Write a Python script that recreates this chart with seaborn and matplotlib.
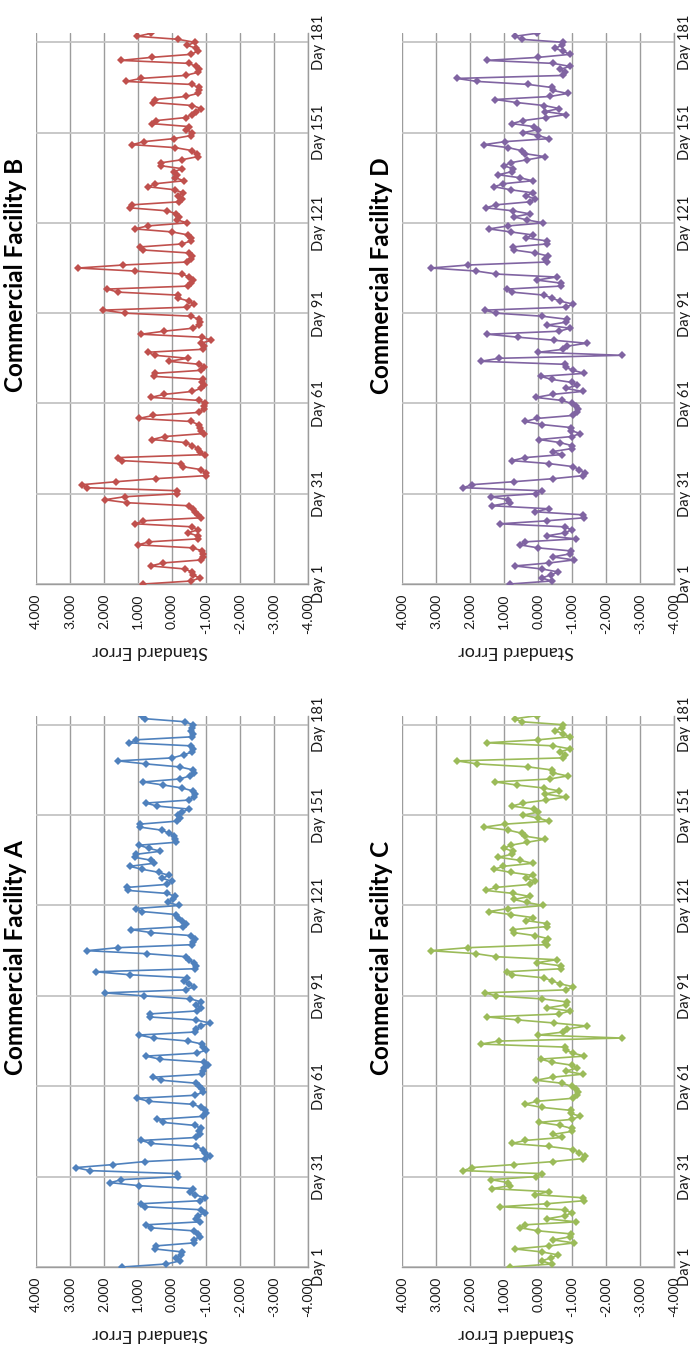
import matplotlib
matplotlib.use("Agg")
import matplotlib.pyplot as plt
import pandas as pd
import seaborn as sns

# ---------------- data ----------------
days = list(range(1, 185))
day_ticks = [1, 31, 61, 91, 121, 151, 181]
day_labels = ["Day 1", "Day 31", "Day 61", "Day 91", "Day 121", "Day 151", "Day 181"]
se_ticks = [4, 3, 2, 1, 0, -1, -2, -3, -4]
se_labels = ["4.000", "3.000", "2.000", "1.000", "0.000", "-1.000", "-2.000", "-3.000", "-4.000"]

facility_a = [
    1.46, 0.17, -0.23, -0.11, -0.25, -0.30, 0.51, 0.48, -0.64, -0.64,
    -0.81, -0.76, -0.64, 0.61, 0.77, -0.83, -0.72, -0.76, -0.96, -0.86,
    0.80, 0.90, -0.81, -0.96, -0.67, -0.52, -0.63, 0.97, 1.81, 1.49,
    -0.18, -0.15, 2.42, 2.83, 1.73, 0.80, -0.96, -1.11, -0.96, -0.91,
    -0.72, 0.61, 0.90, -0.72, -0.81, -0.79, -0.86, -0.67, 0.26, 0.44,
    -0.91, -1.01, -0.96, -0.85, -0.62, 0.68, 1.03, -0.67, -0.91, -0.89,
    -0.80, -0.72, 0.31, 0.56, -0.89, -0.91, -0.95, -1.06, -0.93, 0.36,
    0.77, -0.74, -1.01, -0.91, -0.89, -0.47, 0.54, 0.98, -0.67, -0.70,
    -0.86, -1.11, -0.70, 0.66, 0.66, -0.74, -0.86, -0.72, -0.86, -0.54,
    0.83, 1.98, -0.42, -0.64, -0.50, -0.34, -0.45, 1.23, 2.25, -0.67,
    -0.70, -0.64, -0.50, -0.42, 0.74, 2.50, 1.59, -0.60, -0.62, -0.67,
    -0.57, 0.61, 1.20, -0.32, -0.42, -0.30, -0.18, -0.11, 0.87, 1.07,
    -0.21, 0.12, -0.03, -0.10, 0.15, 1.29, 1.32, 0.15, -0.01, 0.28,
    0.10, 0.38, 0.87, 1.25, 0.54, 0.61, 1.10, 1.05, 0.34, 0.68,
    0.97, -0.13, -0.10, -0.05, 0.09, 0.30, 0.93, 0.95, -0.15, -0.23,
    -0.18, -0.30, -0.50, 0.44, 0.77, -0.50, -0.64, -0.67, -0.62, -0.30,
    0.26, 0.85, -0.23, -0.52, -0.64, -0.62, -0.23, 0.77, 1.59, -0.01,
    -0.34, -0.60, -0.62, -0.55, 1.26, 1.05, -0.60, -0.62, -0.55, -0.60,
    -0.62, -0.37, 0.79, 0.87,
]

facility_b = [
    0.84, -0.57, -0.81, -0.62, -0.59, -0.37, 0.63, 0.26, -0.86, -0.92,
    -0.90, -0.88, -0.62, 1.00, 0.68, -0.75, -0.75, -0.47, -0.76, -0.60,
    1.08, 0.84, -0.86, -0.76, -0.69, -0.62, -0.49, 1.31, 1.98, 1.39,
    -0.16, -0.16, 2.49, 2.65, 1.64, 0.48, -0.99, -0.99, -0.86, -0.31,
    -0.25, 1.47, 1.59, -0.96, -0.81, -0.77, -0.60, -0.40, 0.59, 0.22,
    -0.94, -0.85, -0.82, -0.78, -0.55, 0.98, 0.56, -0.78, -0.95, -0.93,
    -0.98, -0.80, 0.62, 0.24, -0.60, -0.85, -0.95, -0.88, -0.90, 0.53,
    0.49, -0.85, -0.95, -0.80, 0.10, -0.47, 0.51, 0.72, -0.92, -0.95,
    -0.85, -1.16, -0.88, 0.90, 0.24, -0.62, -0.80, -0.82, -0.78, -0.55,
    1.39, 2.03, -0.45, -0.65, -0.50, -0.18, -0.17, 1.60, 1.90, -0.48,
    -0.55, -0.62, -0.50, -0.30, 1.10, 2.76, 1.44, -0.45, -0.55, -0.58,
    -0.50, 0.85, 0.95, -0.30, -0.55, -0.57, -0.47, 0.00, 1.10, 0.71,
    -0.45, -0.15, -0.22, -0.13, 0.14, 1.24, 1.18, -0.20, -0.28, -0.18,
    -0.32, -0.08, 0.70, 0.50, -0.35, -0.10, -0.15, -0.05, -0.30, 0.33,
    0.31, -0.30, -0.75, -0.73, -0.60, -0.10, 1.17, 0.82, -0.05, -0.55,
    -0.60, -0.40, -0.50, 0.60, 0.46, -0.40, -0.58, -0.70, -0.85, -0.60,
    0.55, 0.50, -0.40, -0.75, -0.80, -0.78, -0.58, 1.35, 0.92, -0.40,
    -0.75, -0.78, -0.70, -0.50, 1.50, 0.60, -0.55, -0.75, -0.72, -0.45,
    -0.67, -0.18, 1.02, 0.61,
]

facility_c = [
    0.83, -0.39, -0.10, -0.36, -0.59, -0.10, 0.69, -0.32, -1.05, -0.42,
    -0.93, -0.95, 0.00, 0.54, 0.39, -1.11, -0.25, -0.78, -0.98, -0.78,
    1.13, -0.25, -1.34, -1.30, 0.10, -0.31, 1.37, 0.83, 0.88, 1.40,
    0.08, -0.10, 2.20, 1.96, 0.72, -0.44, -1.32, -1.37, -1.20, -1.03,
    -0.32, 0.78, 0.39, -0.69, -0.42, -0.98, -0.98, -0.64, -0.03, -0.98,
    -1.23, -0.96, -0.95, -0.10, 0.39, 0.05, -1.01, -1.15, -1.18, -1.11,
    -0.98, -0.69, 0.07, -0.42, -1.30, -0.81, -1.13, -0.98, -0.39, -0.07,
    -1.35, -1.03, -0.80, -0.78, 1.70, 1.15, -2.45, 0.00, -0.74, -0.83,
    -1.42, -0.46, 0.59, 1.50, -0.62, -0.93, -0.25, -0.81, -0.83, -0.10,
    1.25, 1.57, -0.81, -1.03, -0.64, -0.40, -0.17, 0.78, 0.91, -0.66,
    -0.66, 0.05, -0.54, 1.23, 1.83, 3.17, 2.06, -0.25, -0.20, -0.29,
    0.10, 0.72, 0.75, -0.25, -0.26, 0.36, 0.17, 0.81, 1.45, 0.88,
    -0.15, 0.34, 0.72, 0.25, 0.74, 1.54, 1.25, 0.25, 0.10, 0.36,
    0.17, 0.81, 1.30, 1.03, 0.17, 0.54, 1.18, 0.78, 0.75, 1.01,
    0.81, 0.32, -0.20, 0.39, 0.49, 0.88, 1.60, 0.98, -0.32, 0.00,
    0.44, 0.00, 0.13, 0.78, 0.44, -0.23, -0.81, -0.20, -0.62, -0.17,
    0.64, 1.27, -0.34, -0.86, -0.44, -0.39, 0.29, 1.79, 2.40, -0.74,
    -0.78, -0.64, -0.93, -0.44, 1.52, 0.00, -0.93, -0.74, -0.49, -0.69,
    -0.74, 0.49, 0.69, 0.05,
]

# Facility D reads identically to Facility C in the reference
facility_d = list(facility_c)

# ---------------- style ----------------
sns.set_theme(style="white")
plt.rcParams["font.family"] = ["Lato", "DejaVu Sans"]

W, H = 690, 1355
fig = plt.figure(figsize=(W / 100, H / 100), dpi=100)
fig.patch.set_facecolor("white")

TEXT = "#1a1a1a"
GRID_V = "#9c9c9c"
GRID_H = "#c4c4c4"


def rect(x0, x1, ytop, ybot):
    return [x0 / W, 1 - ybot / H, (x1 - x0) / W, (ybot - ytop) / H]


panels = [
    ("Commercial Facility B", facility_b, "#C0504D", 36.0, 33.3, 584.0),
    ("Commercial Facility D", facility_d, "#8064A2", 402.3, 33.3, 584.0),
    ("Commercial Facility A", facility_a, "#4F81BD", 36.0, 715.7, 1267.0),
    ("Commercial Facility C", facility_c, "#9BBB59", 402.3, 715.7, 1267.0),
]

for title, vals, color, x0, ytop, ybot in panels:
    ax = fig.add_axes(rect(x0, x0 + 272.0, ytop, ybot))
    df = pd.DataFrame({"day": days, "se": vals})
    sns.lineplot(
        data=df, x="se", y="day", ax=ax, sort=False, estimator=None,
        orient="y", color=color, linewidth=1.2, marker="D",
        markersize=3.6, markeredgewidth=0, zorder=3,
    )
    ax.set_xlim(4, -4)
    ax.set_ylim(1, 184)
    ax.set_axisbelow(True)

    ax.set_xticks(se_ticks)
    ax.set_xticklabels(se_labels, rotation=90, fontsize=10, color=TEXT)
    ax.xaxis.grid(True, color=GRID_V, linewidth=1.0)

    ax.yaxis.tick_right()
    ax.set_yticks(day_ticks)
    ax.set_yticklabels(day_labels, rotation=90, fontsize=10.5, color=TEXT, va="center")
    ax.yaxis.grid(True, color=GRID_H, linewidth=1.3)

    ax.tick_params(axis="x", length=0, pad=7.0)
    ax.tick_params(axis="y", length=0, pad=3.0)

    for s in ("top", "left"):
        ax.spines[s].set_visible(False)
    for s in ("bottom", "right"):
        ax.spines[s].set_color(GRID_V)
        ax.spines[s].set_linewidth(1.0)

    ax.set_xlabel("")
    ax.set_ylabel("")

    # rotated chart title and value-axis title
    fig.text((x0 - 20.5) / W, 1 - (ytop + 242) / H, title, rotation=90,
             ha="center", va="center", fontsize=17.5, fontweight="bold", color="black")
    fig.text((x0 + 114) / W, 1 - (ybot + 67) / H, "Standard Error", rotation=180,
             ha="center", va="center", fontsize=13, color=TEXT)

fig.savefig("out.png", dpi=100, facecolor="white")
